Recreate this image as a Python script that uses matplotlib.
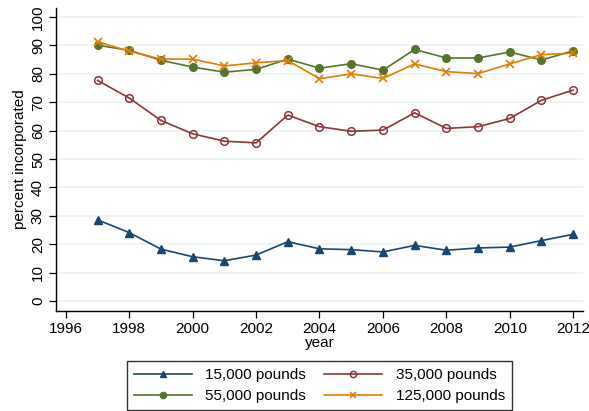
import matplotlib.pyplot as plt
import numpy as np

plt.rcParams['font.family'] = ['Liberation Sans', 'DejaVu Sans']

# data
years = np.arange(1997, 2013)
lbs_15k = [28.6, 24.1, 18.3, 15.6, 14.2, 16.2, 20.9, 18.4, 18.1, 17.3, 19.6, 17.9, 18.7, 19.0, 21.3, 23.5]
lbs_35k = [77.7, 71.5, 63.6, 58.9, 56.3, 55.7, 65.5, 61.4, 59.8, 60.2, 66.3, 60.8, 61.4, 64.3, 70.7, 74.3]
lbs_55k = [90.1, 88.3, 84.8, 82.4, 80.6, 81.6, 85.2, 82.0, 83.6, 81.3, 88.6, 85.6, 85.6, 87.7, 84.9, 88.1]
lbs_125k = [91.3, 88.0, 85.2, 85.2, 82.8, 83.9, 84.7, 78.3, 80.0, 78.4, 83.5, 80.8, 80.1, 83.5, 86.8, 87.3]
labels = ['15,000 pounds', '35,000 pounds', '55,000 pounds', '125,000 pounds']

fig = plt.figure(figsize=(5.89, 4.11), dpi=100)
ax = fig.add_axes([56/589, 100/411, 527/589, 303/411])

l1, = ax.plot(years, lbs_15k, color='#1a476f', lw=1.2, marker='^', ms=5.8, label=labels[0])
l2, = ax.plot(years, lbs_35k, color='#90353b', lw=1.2, marker='o', ms=5.5, mfc='none', mew=1.1, label=labels[1])
l3, = ax.plot(years, lbs_55k, color='#55752f', lw=1.2, marker='o', ms=5.5, label=labels[2])
l4, = ax.plot(years, lbs_125k, color='#e37e00', lw=1.2, marker='x', ms=5.5, mew=1.2, label=labels[3])

ax.set_xlim(1995.69, 2012.31)
ax.set_ylim(-3.5, 103.2)
ax.set_xticks(np.arange(1996, 2013, 2))
ax.set_yticks(np.arange(0, 101, 10))
ax.grid(axis='y', color='#eaf2f3', lw=1.2)
ax.set_axisbelow(True)
for s in ['top', 'right']:
    ax.spines[s].set_visible(False)
for s in ['left', 'bottom']:
    ax.spines[s].set_linewidth(1.0)
ax.tick_params(labelsize=11, length=5, width=0.9, pad=3)
ax.tick_params(axis='y', labelrotation=90)
for t in ax.get_yticklabels():
    t.set_va('center')
ax.set_xlabel('year', fontsize=11, labelpad=0)
ax.set_ylabel('percent incorporated', fontsize=11, labelpad=3)

# row-wise legend order like the original
leg = fig.legend([l1, l3, l2, l4], [labels[0], labels[2], labels[1], labels[3]],
                 loc='lower center', bbox_to_anchor=(319.5/589, 0.003), ncol=2,
                 fontsize=11, frameon=True, fancybox=False, edgecolor='black',
                 handlelength=3.8, handletextpad=0.9, columnspacing=1.2,
                 borderpad=0.45, labelspacing=0.45, borderaxespad=0)
leg.get_frame().set_linewidth(1.0)
for h in leg.legend_handles:
    h.set_markersize(4.5)

fig.savefig('out.png', dpi=100)
